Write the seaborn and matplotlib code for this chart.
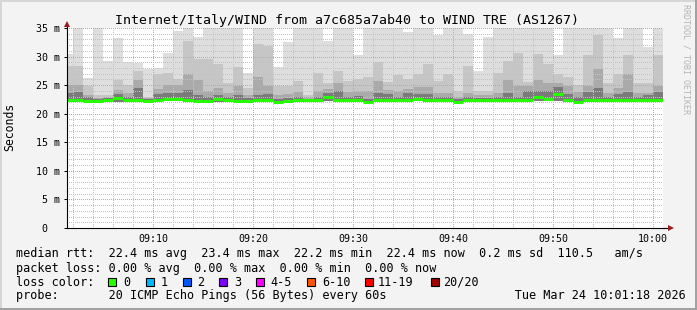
import matplotlib
matplotlib.use("Agg")
import matplotlib.pyplot as plt
from matplotlib.patches import Rectangle
from matplotlib.lines import Line2D
import numpy as np
import pandas as pd
import seaborn as sns

W, H = 697, 310
MONO = "DejaVu Sans Mono"
plt.rcParams["font.family"] = [MONO, "DejaVu Sans"]

# ---------------- data ----------------
title = "Internet/Italy/WIND from a7c685a7ab40 to WIND TRE (AS1267)"
y_label = "Seconds"
time_ticks = [10, 20, 30, 40, 50, 60]
time_labels = ["09:10", "09:20", "09:30", "09:40", "09:50", "10:00"]
y_ticks = [0, 5, 10, 15, 20, 25, 30, 35]
y_tick_labels = [" 0", " 5 m", "10 m", "15 m", "20 m", "25 m", "30 m", "35 m"]

# bar start: minutes after 09:00 (one bar per minute, 09:01 .. 10:00)
minute = np.arange(1, 61)

rtt_median = [22.4, 22.4, 22.2, 22.2, 22.4, 22.7, 22.4, 22.4, 22.2, 22.4,
              22.6, 22.5, 22.4, 22.2, 22.2, 22.6, 22.4, 22.2, 22.2, 22.4,
              22.4, 22.1, 22.2, 22.4, 22.4, 22.4, 23.0, 22.4, 22.4, 22.4,
              22.1, 22.4, 22.4, 22.4, 22.4, 22.6, 22.4, 22.4, 22.4, 22.1,
              22.4, 22.4, 22.4, 22.4, 22.4, 22.4, 22.4, 22.9, 22.6, 23.5,
              22.4, 22.1, 22.4, 22.4, 22.4, 22.4, 22.4, 22.4, 22.4, 22.4]

rtt_min = [22.1, 22.1, 21.9, 21.9, 22.1, 22.1, 22.1, 22.1, 21.9, 22.1,
           22.2, 22.2, 22.1, 21.9, 21.9, 22.1, 22.1, 21.9, 21.9, 22.1,
           22.1, 21.8, 21.9, 22.1, 22.1, 22.1, 22.3, 22.1, 22.1, 22.1,
           21.8, 22.1, 22.1, 22.1, 22.1, 22.2, 22.1, 22.1, 22.1, 21.8,
           22.1, 22.1, 22.1, 22.1, 22.1, 22.1, 22.1, 22.2, 22.2, 22.3,
           22.1, 21.8, 22.1, 22.1, 22.1, 22.1, 22.1, 22.1, 22.1, 22.1]

smoke_low = [23.6, 23.8, 22.9, 22.6, 22.7, 23.4, 23.0, 24.5, 22.5, 23.5,
             23.6, 23.7, 24.1, 23.2, 23.0, 23.2, 22.9, 23.3, 22.7, 23.3,
             23.4, 22.6, 22.8, 23.0, 22.6, 23.0, 23.6, 24.0, 22.9, 23.1,
             22.6, 23.6, 23.4, 23.0, 23.6, 23.5, 23.5, 23.0, 22.9, 22.5,
             22.9, 22.8, 22.7, 22.9, 23.6, 23.0, 23.9, 24.0, 24.0, 24.6,
             23.5, 22.9, 23.8, 24.5, 22.9, 23.5, 23.8, 22.9, 23.2, 23.8]

smoke_mid = [25.0, 25.0, 23.3, 22.8, 22.9, 24.2, 23.6, 25.9, 22.7, 24.4,
             25.0, 25.0, 27.0, 25.9, 23.9, 24.5, 23.6, 24.8, 23.2, 26.4,
             24.9, 23.3, 23.4, 23.8, 22.9, 24.0, 24.4, 25.4, 23.8, 24.0,
             24.0, 25.8, 24.2, 24.0, 24.4, 24.7, 24.7, 23.6, 23.7, 23.0,
             23.7, 23.3, 23.2, 23.7, 25.9, 24.9, 24.9, 25.9, 25.3, 25.3,
             24.9, 23.8, 24.9, 27.9, 23.6, 24.5, 27.0, 23.6, 23.6, 24.9]

smoke_high = [28.4, 28.4, 24.8, 23.3, 23.3, 25.9, 25.1, 27.5, 23.0, 27.0,
              27.2, 26.1, 32.8, 29.5, 29.5, 28.7, 25.3, 28.1, 24.5, 32.2,
              31.9, 24.9, 24.9, 25.8, 23.2, 27.2, 25.3, 27.5, 25.8, 26.0,
              26.5, 29.0, 25.5, 26.7, 26.1, 27.0, 28.7, 25.8, 27.0, 24.0,
              28.4, 24.0, 24.0, 27.2, 29.3, 30.7, 25.5, 30.5, 28.7, 27.0,
              26.4, 25.0, 30.2, 33.7, 25.3, 27.0, 30.2, 25.3, 25.3, 30.2]

rtt_max = [30.4, 35.0, 26.3, 35.0, 29.2, 33.3, 29.1, 28.8, 27.9, 28.0,
           30.7, 34.5, 35.0, 33.5, 35.0, 35.0, 35.0, 35.0, 27.2, 35.0,
           35.0, 28.1, 32.5, 35.0, 35.0, 35.0, 32.8, 35.0, 35.0, 30.2,
           35.0, 35.0, 35.0, 35.0, 34.3, 35.0, 35.0, 33.7, 35.0, 35.0,
           34.0, 27.5, 33.5, 35.0, 35.0, 35.0, 35.0, 35.0, 35.0, 30.2,
           35.0, 35.0, 35.0, 35.0, 35.0, 33.3, 35.0, 35.0, 31.6, 35.0]

legend_rows = [
    "median rtt:  22.4 ms avg  23.4 ms max  22.2 ms min  22.4 ms now  0.2 ms sd  110.5   am/s",
    "packet loss: 0.00 % avg  0.00 % max  0.00 % min  0.00 % now",
    "loss color:",
    "probe:       20 ICMP Echo Pings (56 Bytes) every 60s                  Tue Mar 24 10:01:18 2026",
]
loss_labels = ["0", "1", "2", "3", "4-5", "6-10", "11-19", "20/20"]
loss_colors = ["#26ff00", "#00b8ff", "#0059ff", "#7e00ff", "#ff00ff",
               "#ff5500", "#ff0000", "#a10000"]

# ---------------- figure ----------------
def fx(x):
    return x / W


def fy(y):
    return 1 - y / H


fig = plt.figure(figsize=(W / 100, H / 100), dpi=100, facecolor="#f3f3f3")
ax = fig.add_axes([fx(67), fy(228), 596 / W, 200 / H])
ax.set_facecolor("white")

df = pd.DataFrame({
    "center": minute + 0.5,
    "max": rtt_max, "high": smoke_high, "mid": smoke_mid,
    "low": smoke_low, "min": rtt_min, "median": rtt_median,
})

layers = [("max", "#dedede"), ("high", "#c6c6c6"), ("mid", "#aaaaaa"),
          ("low", "#7a7a7a"), ("min", "#ffffff")]
for col, colr in layers:
    sns.barplot(data=df, x="center", y=col, native_scale=True, width=1,
                color=colr, saturation=1, errorbar=None, linewidth=0,
                ax=ax, zorder=1)

ax.hlines(df["median"], df["center"] - 0.5, df["center"] + 0.5,
          color="#26ff00", lw=2.2, zorder=3)

ax.set_xlim(1.4, 61.0)
ax.set_ylim(0, 35)
ax.set_xlabel("")
ax.set_ylabel("")

ax.set_xticks(time_ticks, time_labels)
ax.set_xticks(np.arange(2, 62, 2), minor=True)
ax.set_yticks(y_ticks, y_tick_labels)
ax.set_yticks(np.arange(0, 36, 1), minor=True)

ax.set_axisbelow(False)
dotted = (0.5, (1, 1))
for axis in (ax.xaxis, ax.yaxis):
    axis.grid(True, which="minor", color="#c2c2c2", ls=dotted, lw=0.72)
    axis.grid(True, which="major", color="#ec9292", ls=dotted, lw=0.72)

ax.tick_params(axis="y", which="major", length=2.16, width=0.72,
               direction="out", pad=20.2, labelsize=7.2, colors="black")
ax.tick_params(axis="x", which="major", length=0, pad=4.3, labelsize=7.2)
ax.tick_params(which="minor", length=0)
for lbl in ax.get_yticklabels():
    lbl.set_horizontalalignment("left")
    lbl.set_family(MONO)
for lbl in ax.get_xticklabels():
    lbl.set_family(MONO)

for s in ("top", "right"):
    ax.spines[s].set_visible(False)
for s in ("left", "bottom"):
    ax.spines[s].set_color("black")
    ax.spines[s].set_linewidth(0.8)
    ax.spines[s].set_zorder(4)

# axis extensions and arrows
ax.plot([0, 0], [1, 1.02], transform=ax.transAxes, color="black", lw=0.8,
        clip_on=False, zorder=4)
ax.plot([1, 1.0084], [0, 0], transform=ax.transAxes, color="black", lw=0.8,
        clip_on=False, zorder=4)
ax.plot([0], [1.0225], transform=ax.transAxes, marker="^", ms=4.6,
        color="#9b1c1c", mew=0, clip_on=False, zorder=5)
ax.plot([1.0134], [0], transform=ax.transAxes, marker=">", ms=4.6,
        color="#9b1c1c", mew=0, clip_on=False, zorder=5)

# texts
fig.text(fx(347), fy(24), title, ha="center", va="baseline",
         fontsize=9.5, family=MONO)
fig.text(fx(10), fy(127), y_label, rotation=90, ha="center", va="center",
         fontsize=8.3, family=MONO)
fig.text(fx(686), fy(4), "RRDTOOL / TOBI OETIKER", rotation=270,
         ha="center", va="top", fontsize=6, family=MONO, color="#b4b4b4")

baselines = [257.5, 271.6, 285.7, 299.5]
for row, b in zip(legend_rows, baselines):
    fig.text(fx(16), fy(b), row, ha="left", va="baseline", fontsize=8.5,
             family=MONO)

sq_x = [108.3, 145.7, 182.7, 219.3, 256.0, 307.3, 365.0, 430.7]
lab_x = [123.0, 160.7, 197.3, 234.0, 270.7, 322.7, 377.3, 443.3]
for sx, lx, lab, c in zip(sq_x, lab_x, loss_labels, loss_colors):
    fig.add_artist(Rectangle((fx(sx), fy(285.7)), 8 / W, 8 / H,
                             transform=fig.transFigure, facecolor=c,
                             edgecolor="black", lw=0.8))
    fig.text(fx(lx), fy(285.7), lab, ha="left", va="baseline", fontsize=8.5,
             family=MONO)

# frame
fig.add_artist(Line2D([0, 1], [fy(0.8), fy(0.8)], transform=fig.transFigure,
                      color="#d6d6d6", lw=1.4))
fig.add_artist(Line2D([fx(0.8), fx(0.8)], [0, 1], transform=fig.transFigure,
                      color="#d6d6d6", lw=1.4))
fig.add_artist(Line2D([0, 1], [fy(309), fy(309)], transform=fig.transFigure,
                      color="#a0a0a0", lw=1.4))
fig.add_artist(Line2D([fx(696), fx(696)], [0, 1], transform=fig.transFigure,
                      color="#a0a0a0", lw=1.4))

fig.savefig("out.png", dpi=100, facecolor=fig.get_facecolor())
